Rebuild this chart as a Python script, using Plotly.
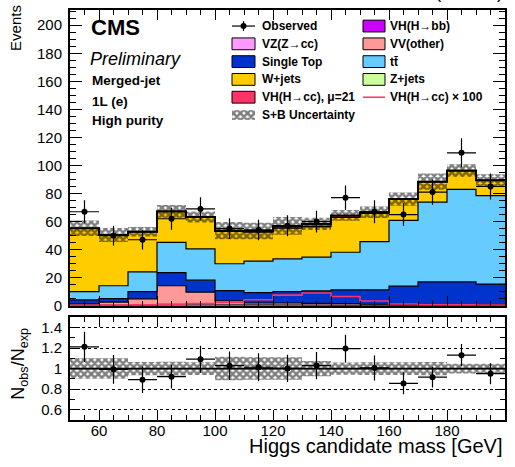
import numpy as np
import plotly.graph_objects as go

# ---------------- data ----------------
bin_edges = [50, 60, 70, 80, 90, 100, 110, 120, 130, 140, 150, 160, 170, 180, 190, 200]
bin_centers = [55, 65, 75, 85, 95, 105, 115, 125, 135, 145, 155, 165, 175, 185, 195]

observed = [67, 50, 47, 62, 69, 55, 54, 57, 60, 77, 67, 65, 81, 109, 85]

vh_bb = [0.1, 0.1, 0.1, 0.2, 0.2, 0.2, 0.2, 0.2, 0.2, 0.1, 0.1, 0.1, 0.1, 0.1, 0.1]
z_jets = [0.3, 0.3, 0.3, 0.4, 0.4, 0.3, 0.3, 0.3, 0.2, 0.2, 0.2, 0.2, 0.2, 0.2, 0.2]
vz_cc = [0.1, 0.1, 0.2, 0.4, 0.6, 0.4, 0.3, 0.2, 0.2, 0.1, 0.1, 0.1, 0.1, 0.1, 0.1]
vv_other = [0.7, 2.1, 4.3, 13.2, 8.4, 2.6, 1.1, 1.2, 1.1, 1.1, 0.6, 0.4, 0.4, 0.4, 0.4]
single_top = [3.0, 2.4, 5.1, 9.4, 8.6, 7.2, 7.4, 8.1, 8.8, 9.7, 10.2, 13.2, 16.2, 16.2, 14.6]
ttbar = [5.8, 9.2, 14.1, 21.5, 22.3, 19.2, 22.5, 23.4, 24.1, 26.9, 34.5, 46.8, 56.9, 66.0, 63.1]
w_jets = [45.2, 36.1, 28.5, 22.0, 22.4, 23.1, 20.6, 21.9, 21.8, 24.9, 20.2, 15.0, 14.4, 13.2, 10.9]
vh_cc_mu21 = [0.06, 0.08, 0.13, 0.2, 0.3, 0.5, 0.9, 1.6, 1.9, 1.4, 0.7, 0.25, 0.15, 0.13, 0.1]
vh_cc_x100 = [0.3, 0.4, 0.6, 1.0, 1.5, 2.5, 4.2, 7.5, 9.0, 6.5, 3.3, 1.2, 0.7, 0.6, 0.5]
rel_unc = [0.10, 0.10, 0.065, 0.068, 0.062, 0.115, 0.11, 0.11, 0.075, 0.06, 0.062, 0.062, 0.065, 0.048, 0.048]

x_ticks = [60, 80, 100, 120, 140, 160, 180, 200]

# ---------------- helpers ----------------
W, H = 515, 467
FONT = "Liberation Sans"


def step(v):
    v = list(v)
    return v + [v[-1]]


def px(x):
    return x / W


def py(y):
    return 1 - y / H


stack = [
    ("VH(H→bb)", vh_bb, "#cc00ff", 0.6),
    ("Z+jets", z_jets, "#ccff99", 0.6),
    ("VZ(Z→cc)", vz_cc, "#ff99ff", 0.6),
    ("VV(other)", vv_other, "#ff9999", 1.2),
    ("Single Top", single_top, "#0033cc", 1.2),
    ("tt̄", ttbar, "#66ccff", 1.2),
    ("W+jets", w_jets, "#ffcc00", 1.2),
    ("VH(H→cc), μ=21", vh_cc_mu21, "#ff3366", 2.0),
]

total = np.sum([np.array(s[1]) for s in stack], axis=0)
unc = total * np.array(rel_unc)
obs = np.array(observed, dtype=float)
obs_err = np.sqrt(obs)

fig = go.Figure()

# ---------------- main panel ----------------
for name, vals, col, lw in stack:
    fig.add_trace(go.Scatter(
        x=bin_edges, y=step(vals), mode="lines", stackgroup="bkg",
        line=dict(shape="hv", color="black", width=lw),
        fillcolor=col, name=name, showlegend=False, hoverinfo="skip",
        xaxis="x", yaxis="y"))

hatch = dict(shape="x", fgcolor="black", bgcolor="rgba(0,0,0,0)", size=5, solidity=0.75)

fig.add_trace(go.Scatter(
    x=bin_edges, y=step(total - unc), mode="lines",
    line=dict(shape="hv", width=0, color="rgba(0,0,0,0)"),
    showlegend=False, hoverinfo="skip", xaxis="x", yaxis="y"))
fig.add_trace(go.Scatter(
    x=bin_edges, y=step(total + unc), mode="lines",
    line=dict(shape="hv", width=0, color="rgba(0,0,0,0)"),
    fill="tonexty", fillcolor="rgba(0,0,0,0)", fillpattern=hatch,
    showlegend=False, hoverinfo="skip", xaxis="x", yaxis="y"))

fig.add_trace(go.Scatter(
    x=bin_edges, y=step(vh_cc_x100), mode="lines",
    line=dict(shape="hv", color="#ff3366", width=1.6),
    showlegend=False, hoverinfo="skip", xaxis="x", yaxis="y"))

fig.add_trace(go.Scatter(
    x=bin_centers, y=observed, mode="markers",
    marker=dict(color="black", size=6),
    error_y=dict(type="data", array=obs_err, color="black", thickness=1.2, width=0),
    error_x=dict(type="constant", value=5, color="black", thickness=1.2, width=0),
    showlegend=False, hoverinfo="skip", xaxis="x", yaxis="y"))

# ---------------- ratio panel ----------------
ratio = obs / total
ratio_err = obs_err / total
r_lo = 1 - np.array(rel_unc)
r_hi = 1 + np.array(rel_unc)

fig.add_trace(go.Scatter(
    x=bin_edges, y=step(r_lo), mode="lines",
    line=dict(shape="hv", width=0, color="rgba(0,0,0,0)"),
    showlegend=False, hoverinfo="skip", xaxis="x2", yaxis="y2"))
fig.add_trace(go.Scatter(
    x=bin_edges, y=step(r_hi), mode="lines",
    line=dict(shape="hv", width=0, color="rgba(0,0,0,0)"),
    fill="tonexty", fillcolor="rgba(0,0,0,0)", fillpattern=hatch,
    showlegend=False, hoverinfo="skip", xaxis="x2", yaxis="y2"))
fig.add_trace(go.Scatter(
    x=[50, 200], y=[1, 1], mode="lines", line=dict(color="black", width=1.6),
    showlegend=False, hoverinfo="skip", xaxis="x2", yaxis="y2"))
fig.add_trace(go.Scatter(
    x=bin_centers, y=ratio, mode="markers",
    marker=dict(color="black", size=6),
    error_y=dict(type="data", array=ratio_err, color="black", thickness=1.2, width=0),
    error_x=dict(type="constant", value=5, color="black", thickness=1.2, width=0),
    showlegend=False, hoverinfo="skip", xaxis="x2", yaxis="y2"))

# ---------------- custom legend (pixel overlay) ----------------
leg_rows = [26.5 + 18.1 * i for i in range(6)]
c1_box, c2_box = (232, 255), (363, 385)
c1_txt, c2_txt = 260, 388

legend_items = [
    (1, 0, "Observed", "data", None),
    (2, 0, "VH(H→bb)", "box", "#cc00ff"),
    (1, 1, "VZ(Z→cc)", "box", "#ff99ff"),
    (2, 1, "VV(other)", "box", "#ff9999"),
    (1, 2, "Single Top", "box", "#0033cc"),
    (2, 2, "tt̄", "box", "#66ccff"),
    (1, 3, "W+jets", "box", "#ffcc00"),
    (2, 3, "Z+jets", "box", "#ccff99"),
    (1, 4, "VH(H→cc), μ=21", "box", "#ff3366"),
    (2, 4, "VH(H→cc) × 100", "line", "#ff3366"),
    (1, 5, "S+B Uncertainty", "hatch", None),
]

annotations = []
for col, row, label, kind, color in legend_items:
    x0, x1 = c1_box if col == 1 else c2_box
    yc = leg_rows[row]
    if kind == "box":
        fig.add_trace(go.Scatter(
            x=[x0, x1, x1, x0, x0], y=[yc - 6, yc - 6, yc + 6, yc + 6, yc - 6],
            mode="lines", fill="toself", fillcolor=color,
            line=dict(color="black", width=1), showlegend=False, hoverinfo="skip",
            xaxis="x3", yaxis="y3"))
    elif kind == "hatch":
        fig.add_trace(go.Scatter(
            x=[x0, x1, x1, x0, x0], y=[yc - 5, yc - 5, yc + 5, yc + 5, yc - 5],
            mode="lines", fill="toself", fillcolor="rgba(0,0,0,0)", fillpattern=hatch,
            line=dict(color="rgba(0,0,0,0)", width=0), showlegend=False, hoverinfo="skip",
            xaxis="x3", yaxis="y3"))
    elif kind == "line":
        fig.add_trace(go.Scatter(
            x=[x0, x1], y=[yc, yc], mode="lines", line=dict(color=color, width=1.5),
            showlegend=False, hoverinfo="skip", xaxis="x3", yaxis="y3"))
    elif kind == "data":
        xm = (x0 + x1) / 2
        fig.add_trace(go.Scatter(
            x=[x0, x1], y=[yc, yc], mode="lines", line=dict(color="black", width=1.2),
            showlegend=False, hoverinfo="skip", xaxis="x3", yaxis="y3"))
        fig.add_trace(go.Scatter(
            x=[xm, xm], y=[yc - 5, yc + 5], mode="lines", line=dict(color="black", width=1.2),
            showlegend=False, hoverinfo="skip", xaxis="x3", yaxis="y3"))
        fig.add_trace(go.Scatter(
            x=[xm], y=[yc], mode="markers", marker=dict(color="black", size=6),
            showlegend=False, hoverinfo="skip", xaxis="x3", yaxis="y3"))
    annotations.append(dict(
        x=px(c1_txt if col == 1 else c2_txt), y=py(yc), xref="paper", yref="paper",
        text="<b>%s</b>" % label, showarrow=False, xanchor="left", yanchor="middle",
        font=dict(family=FONT, size=12, color="black")))

# ---------------- text ----------------
annotations += [
    dict(x=px(89), y=py(28), text="<b>CMS</b>", font=dict(family=FONT, size=22, color="black")),
    dict(x=px(88), y=py(60), text="<i>Preliminary</i>", font=dict(family=FONT, size=18, color="black")),
    dict(x=px(90), y=py(82), text="<b>Merged-jet</b>", font=dict(family=FONT, size=13.5, color="black")),
    dict(x=px(90), y=py(103), text="<b>1L (e)</b>", font=dict(family=FONT, size=13.5, color="black")),
    dict(x=px(90), y=py(123), text="<b>High purity</b>", font=dict(family=FONT, size=13.5, color="black")),
]
for a in annotations[-5:]:
    a.update(xref="paper", yref="paper", showarrow=False, xanchor="left", yanchor="middle")

annotations += [
    dict(x=px(505), y=py(4), xref="paper", yref="paper", showarrow=False,
         xanchor="right", yanchor="bottom", text="35.9 fb<sup>-1</sup> (13 TeV)",
         font=dict(family=FONT, size=18, color="black")),
    dict(x=px(16), y=py(3), xref="paper", yref="paper", showarrow=False,
         xanchor="center", yanchor="top", textangle=-90, text="Events",
         font=dict(family=FONT, size=15, color="black")),
    dict(x=px(20), y=py(370), xref="paper", yref="paper", showarrow=False,
         xanchor="center", yanchor="middle", textangle=-90,
         text="N<sub>obs</sub>/N<sub>exp</sub>",
         font=dict(family=FONT, size=18, color="black")),
    dict(x=px(504), y=py(441), xref="paper", yref="paper", showarrow=False,
         xanchor="right", yanchor="top", text="Higgs candidate mass [GeV]",
         font=dict(family=FONT, size=20, color="black")),
]

xdom = [px(70), px(505)]
common_x = dict(
    range=[50, 200], tickmode="array", tickvals=x_ticks, ticks="inside", ticklen=10,
    tickwidth=1, tickcolor="black", showline=True, linewidth=2, linecolor="black",
    mirror="ticks", showgrid=False, zeroline=False,
    minor=dict(ticks="inside", ticklen=5, dtick=5, tick0=0, tickcolor="black", showgrid=False),
    tickfont=dict(family=FONT, size=15, color="black"))

fig.update_layout(
    width=W, height=H,
    margin=dict(l=0, r=0, t=0, b=0),
    font=dict(family=FONT, color="black"),
    paper_bgcolor="white", plot_bgcolor="rgba(0,0,0,0)",
    showlegend=False,
    xaxis=dict(domain=xdom, anchor="y", showticklabels=False, **common_x),
    yaxis=dict(domain=[py(311), py(10)], anchor="x", range=[0, 211], dtick=20, tick0=0,
               ticks="inside", ticklen=12, tickwidth=1, tickcolor="black",
               showline=True, linewidth=2, linecolor="black", mirror="ticks",
               showgrid=False, zeroline=False, ticklabelstandoff=3,
               minor=dict(ticks="inside", ticklen=6, dtick=5, tick0=0, tickcolor="black", showgrid=False),
               tickfont=dict(family=FONT, size=15, color="black")),
    xaxis2=dict(domain=xdom, anchor="y2", showticklabels=True, ticklabelstandoff=-4, **common_x),
    yaxis2=dict(domain=[py(427), py(323)], anchor="x2", range=[0.5, 1.5],
                tickmode="array", tickvals=[0.6, 0.8, 1.0, 1.2, 1.4],
                ticktext=["0.6", "0.8", "1", "1.2", "1.4"],
                ticks="inside", ticklen=10, tickwidth=1, tickcolor="black",
                showline=True, linewidth=2, linecolor="black", mirror="ticks",
                showgrid=True, gridcolor="black", gridwidth=1, griddash="dot",
                zeroline=False, ticklabelstandoff=3,
                minor=dict(ticks="inside", ticklen=5, dtick=0.1, tick0=0, tickcolor="black", showgrid=False),
                tickfont=dict(family=FONT, size=15, color="black")),
    xaxis3=dict(domain=[0, 1], anchor="y3", range=[0, W], visible=False, fixedrange=True),
    yaxis3=dict(domain=[0, 1], anchor="x3", range=[H, 0], visible=False, fixedrange=True),
    annotations=annotations,
)

fig.write_html(
    "out.html",
    config={"displayModeBar": False, "staticPlot": True},
    post_script="document.body.style.margin='0px';document.body.style.overflow='hidden';",
)
